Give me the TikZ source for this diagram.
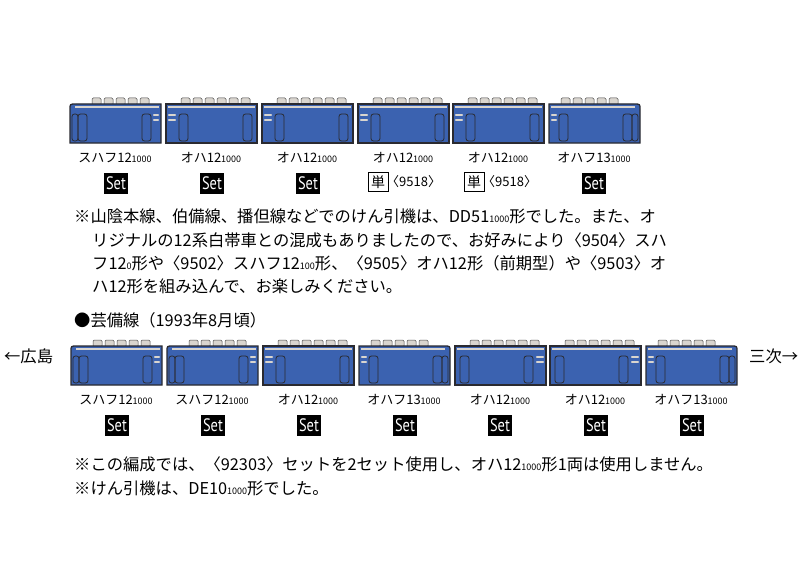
\documentclass[tikz,border=0pt]{standalone}
\usepackage{fontspec}
\setmainfont{Noto Sans CJK JP}
\newfontfamily\setfont[FakeStretch=0.8]{PT Sans}
\begin{document}
\begin{tikzpicture}[x=1pt,y=-1pt,
  body/.style={fill=carblue,draw=outl,line width=1.3pt},
  strip/.style={draw=stripc,line width=2pt},
  door/.style={draw=outl,line width=0.8pt,rounded corners=2.5pt},
  winmark/.style={draw=stripc,line width=2.2pt,line cap=round},
  vent/.style={fill=stripc,draw=gray!60!black,line width=0.5pt,rounded corners=1.2pt},
  lbl/.style={font=\fontsize{13}{13}\selectfont,inner sep=0},
  setbox/.style={fill=black,text=white,font=\setfont\fontsize{18}{18}\selectfont,minimum width=24pt,minimum height=21pt,inner sep=0},
  tanbox/.style={draw=black,line width=0.6pt,font=\fontsize{14}{14}\selectfont,minimum width=20pt,minimum height=19pt,inner sep=0},
  txt/.style={font=\fontsize{16.3}{16.3}\selectfont,anchor=west,inner sep=0}]
\definecolor{carblue}{HTML}{3B62B0}
\definecolor{outl}{HTML}{2A2A30}
\definecolor{stripc}{HTML}{D9D5CF}
\newcommand\vents[2]{\foreach \i in {0,...,#2}{\draw[vent] (#1+\i*12,-6) rectangle (#1+\i*12+9,1);}}
\newcommand\carL[2]{\begin{scope}[shift={(#1,#2)}]
 \vents{22}{4}
 \draw[body] (0,39) -- (0,5) .. controls (0,0) .. (6,0) -- (91,0) -- (91,39) -- cycle;
 \draw[strip] (5,3) -- (89,3);
 \draw[door] (2,10) rectangle (8,37); \draw[door] (8,10) rectangle (17,37);
 \draw[door] (72,10) rectangle (81,37);
 \draw[winmark] (84,11) -- (88,11); \draw[winmark] (84,16) -- (88,16);
 \end{scope}}
\newcommand\carR[2]{\begin{scope}[shift={(#1,#2)}]
 \vents{12}{4}
 \draw[body] (0,39) -- (0,0) -- (85,0) .. controls (91,0) .. (91,5) -- (91,39) -- cycle;
 \draw[strip] (2,3) -- (86,3);
 \draw[door] (10,10) rectangle (19,37);
 \draw[door] (74,10) rectangle (83,37); \draw[door] (83,10) rectangle (89,37);
 \draw[winmark] (3,11) -- (7,11); \draw[winmark] (3,16) -- (7,16);
 \end{scope}}
\newcommand\carM[2]{\begin{scope}[shift={(#1,#2)}]
 \vents{15}{5}
 \draw[body] (0,0) rectangle (91,39);
 \draw[strip] (2,3) -- (89,3);
 \draw[door] (13,10) rectangle (22,37); \draw[door] (77,10) rectangle (86,37);
 \draw[winmark] (3,11) -- (9,11); \draw[winmark] (3,16) -- (9,16);
 \end{scope}}
\newcommand\carMr[2]{\begin{scope}[shift={(#1,#2)}]
 \vents{15}{5}
 \draw[body] (0,0) rectangle (91,39);
 \draw[strip] (2,3) -- (89,3);
 \draw[door] (5,10) rectangle (14,37); \draw[door] (69,10) rectangle (78,37);
 \draw[winmark] (82,11) -- (88,11); \draw[winmark] (82,16) -- (88,16);
 \end{scope}}
\newcommand\sub[1]{{\fontsize{9}{9}\selectfont #1}}
\fill[white] (0,0) rectangle (805,575);
% row 1
\carL{70}{104}\carM{166}{104}\carM{262}{104}\carM{358}{104}\carM{453}{104}\carR{549}{104}
\node[lbl] (l1) at (115,158) {スハフ12\sub{1000}};
\node[lbl] (l2) at (211,158) {オハ12\sub{1000}};
\node[lbl] (l3) at (307,158) {オハ12\sub{1000}};
\node[lbl] (l4) at (403,158) {オハ12\sub{1000}};
\node[lbl] (l5) at (498,158) {オハ12\sub{1000}};
\node[lbl] (l6) at (594,158) {オハフ13\sub{1000}};
\node[setbox] (s1) at (116,183) {Set};
\node[setbox] (s2) at (212,183) {Set};
\node[setbox] (s3) at (308,183) {Set};
\node[tanbox] (t4) at (378,182) {単};
\node[lbl,anchor=west] (q4) at (386,182) {〈9518〉};
\node[tanbox] (t5) at (474,182) {単};
\node[lbl,anchor=west] (q5) at (482,182) {〈9518〉};
\node[setbox] (s6) at (594,183) {Set};
% text
\node[txt] (p1) at (74,216) {※山陰本線、伯備線、播但線などでのけん引機は、DD51\sub{1000}形でした。また、オ};
\node[txt] (p2) at (92,240) {リジナルの12系白帯車との混成もありましたので、お好みにより〈9504〉スハ};
\node[txt] (p3) at (92,263) {フ12\sub{0}形や〈9502〉スハフ12\sub{100}形、〈9505〉オハ12形（前期型）や〈9503〉オ};
\node[txt] (p4) at (92,286) {ハ12形を組み込んで、お楽しみください。};
\node[txt] (h2) at (74,320) {●芸備線（1993年8月頃）};
% row 2
\node[txt] (hiro) at (4,356) {←広島};
\node[txt] (miyo) at (749,356) {三次→};
\carL{71}{346}\carL{167}{346}\carM{263}{346}\carR{359}{346}\carMr{455}{346}\carMr{550}{346}\carR{646}{346}
\node[lbl] (m1) at (116,400) {スハフ12\sub{1000}};
\node[lbl] (m2) at (212,400) {スハフ12\sub{1000}};
\node[lbl] (m3) at (308,400) {オハ12\sub{1000}};
\node[lbl] (m4) at (404,400) {オハフ13\sub{1000}};
\node[lbl] (m5) at (500,400) {オハ12\sub{1000}};
\node[lbl] (m6) at (595,400) {オハ12\sub{1000}};
\node[lbl] (m7) at (691,400) {オハフ13\sub{1000}};
\foreach \x/\n in {117/1,213/2,309/3,405/4,500/5,596/6,692/7}{\node[setbox] (ss\n) at (\x,425) {Set};}
\node[txt] (n1) at (74,464) {※この編成では、〈92303〉セットを2セット使用し、オハ12\sub{1000}形1両は使用しません。};
\node[txt] (n2) at (74,488) {※けん引機は、DE10\sub{1000}形でした。};
\end{tikzpicture}
\end{document}
